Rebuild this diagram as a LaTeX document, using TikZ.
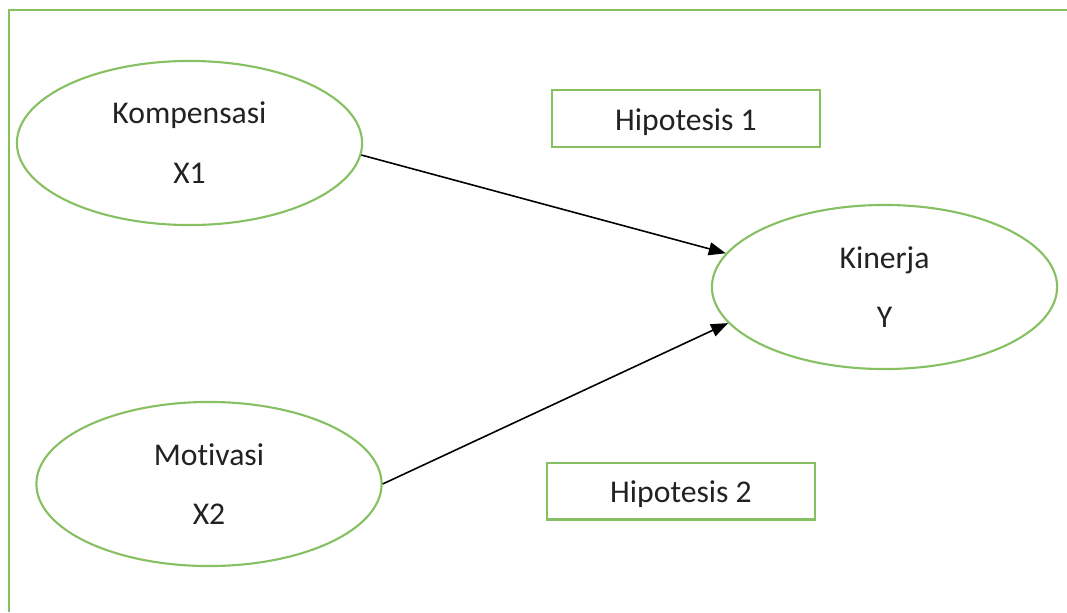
\documentclass[tikz,border=0pt]{standalone}
\usepackage{fontspec}
\setmainfont{Carlito}[Ligatures={NoCommon,NoContextual}, Contextuals=NoAlternate]
\usepackage{tikz}
\usetikzlibrary{arrows.meta, positioning, shapes.geometric}
\definecolor{hpGreen}{HTML}{86C062}
\definecolor{hpText}{HTML}{222222}
\tikzset{
  hp-var/.style={
    ellipse, draw=hpGreen, line width=0.6pt, fill=white,
    minimum width=3.45cm, minimum height=1.64cm, inner sep=0pt,
    align=center, text=hpText, font=\fontsize{9}{17}\selectfont
  },
  hp-box/.style={
    rectangle, draw=hpGreen, line width=0.7pt, fill=white,
    minimum width=2.68cm, minimum height=0.565cm, inner sep=0pt,
    text height=1.5ex, text depth=0.1ex,
    align=center, text=hpText, font=\fontsize{9}{11}\selectfont
  },
  hp-frame/.style={draw=hpGreen, line width=0.8pt},
  hp-flow/.style={-{Triangle[length=1.7mm, width=1.3mm]}, line width=0.45pt, draw=black},
}
\begin{document}
\begin{tikzpicture}[x=0.01cm, y=-0.01cm]
  \useasboundingbox (0,0) rectangle (1067,612);
  % open frame
  \coordinate (fb) at (9,612);
  \coordinate (fr) at (1067,10);
  \draw[hp-frame] (fb) |- (fr);

  \node[hp-var] (x1) at (189.5,143) {Kompensasi\\X1};
  \node[hp-var] (x2) at (209,484)   {Motivasi\\X2};
  \node[hp-var] (y)  at (884.5,287) {Kinerja\\Y};
  \node[hp-box] (h1) at (686,118.5) {Hipotesis 1};
  \node[hp-box] (h2) at (681,491)   {Hipotesis 2};

  \draw[hp-flow] (x1.-4.4) -- (y.168.2);
  \draw[hp-flow] (x2.east) -- (y.-167.8);
\end{tikzpicture}
\end{document}
